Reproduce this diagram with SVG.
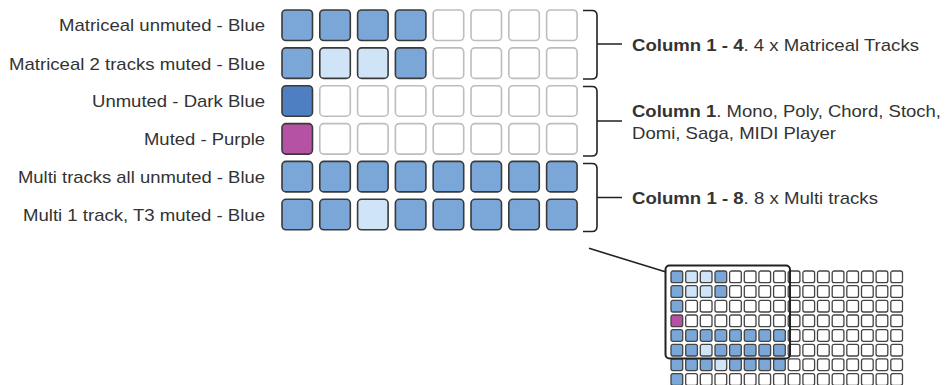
<svg xmlns="http://www.w3.org/2000/svg" width="945" height="385" viewBox="0 0 945 385">
<defs>
<style>
.lbl{font-family:"Liberation Sans",Arial,sans-serif;font-size:17px;fill:#333;text-anchor:end}
.note{font-family:"Liberation Sans",Arial,sans-serif;font-size:17px;fill:#333}
.b{font-weight:bold}
.c{stroke:#3a3a3a;stroke-width:1.6}
.e{fill:#fff;stroke:#bdbdbd;stroke-width:1.6}
.B{fill:#7ba7d8}
.L{fill:#cfe4f7}
.D{fill:#4f7fc3}
.P{fill:#b552a3}
.mini rect{stroke:#444;stroke-width:1.3;fill:#fff}
.mini rect.B{fill:#7ba7d8}
.mini rect.L{fill:#cfe4f7}
.mini rect.P{fill:#b552a3}
.ln{fill:none;stroke:#222;stroke-width:1.6}
</style>
</defs>
<rect width="945" height="385" fill="#fff"/>
<g id="labels">
<text class="lbl" x="265" y="31" textLength="206" lengthAdjust="spacingAndGlyphs">Matriceal unmuted - Blue</text>
<text class="lbl" x="265" y="69.5" textLength="256" lengthAdjust="spacingAndGlyphs">Matriceal 2 tracks muted - Blue</text>
<text class="lbl" x="265" y="107" textLength="173" lengthAdjust="spacingAndGlyphs">Unmuted - Dark Blue</text>
<text class="lbl" x="265" y="145" textLength="121" lengthAdjust="spacingAndGlyphs">Muted - Purple</text>
<text class="lbl" x="265" y="183" textLength="247" lengthAdjust="spacingAndGlyphs">Multi tracks all unmuted - Blue</text>
<text class="lbl" x="265" y="220.5" textLength="242" lengthAdjust="spacingAndGlyphs">Multi 1 track, T3 muted - Blue</text>
</g>
<g id="grid">
<g id="row1">
<rect class="c B" x="282" y="10" width="30.5" height="30.5" rx="4"/>
<rect class="c B" x="319.8" y="10" width="30.5" height="30.5" rx="4"/>
<rect class="c B" x="357.6" y="10" width="30.5" height="30.5" rx="4"/>
<rect class="c B" x="395.4" y="10" width="30.5" height="30.5" rx="4"/>
<rect class="e" x="433.2" y="10" width="30.5" height="30.5" rx="4"/>
<rect class="e" x="471" y="10" width="30.5" height="30.5" rx="4"/>
<rect class="e" x="508.8" y="10" width="30.5" height="30.5" rx="4"/>
<rect class="e" x="546.6" y="10" width="30.5" height="30.5" rx="4"/>
</g>
<g id="row2">
<rect class="c B" x="282" y="47.9" width="30.5" height="30.5" rx="4"/>
<rect class="c L" x="319.8" y="47.9" width="30.5" height="30.5" rx="4"/>
<rect class="c L" x="357.6" y="47.9" width="30.5" height="30.5" rx="4"/>
<rect class="c B" x="395.4" y="47.9" width="30.5" height="30.5" rx="4"/>
<rect class="e" x="433.2" y="47.9" width="30.5" height="30.5" rx="4"/>
<rect class="e" x="471" y="47.9" width="30.5" height="30.5" rx="4"/>
<rect class="e" x="508.8" y="47.9" width="30.5" height="30.5" rx="4"/>
<rect class="e" x="546.6" y="47.9" width="30.5" height="30.5" rx="4"/>
</g>
<g id="row3">
<rect class="c D" x="282" y="85.7" width="30.5" height="30.5" rx="4"/>
<rect class="e" x="319.8" y="85.7" width="30.5" height="30.5" rx="4"/>
<rect class="e" x="357.6" y="85.7" width="30.5" height="30.5" rx="4"/>
<rect class="e" x="395.4" y="85.7" width="30.5" height="30.5" rx="4"/>
<rect class="e" x="433.2" y="85.7" width="30.5" height="30.5" rx="4"/>
<rect class="e" x="471" y="85.7" width="30.5" height="30.5" rx="4"/>
<rect class="e" x="508.8" y="85.7" width="30.5" height="30.5" rx="4"/>
<rect class="e" x="546.6" y="85.7" width="30.5" height="30.5" rx="4"/>
</g>
<g id="row4">
<rect class="c P" x="282" y="123.6" width="30.5" height="30.5" rx="4"/>
<rect class="e" x="319.8" y="123.6" width="30.5" height="30.5" rx="4"/>
<rect class="e" x="357.6" y="123.6" width="30.5" height="30.5" rx="4"/>
<rect class="e" x="395.4" y="123.6" width="30.5" height="30.5" rx="4"/>
<rect class="e" x="433.2" y="123.6" width="30.5" height="30.5" rx="4"/>
<rect class="e" x="471" y="123.6" width="30.5" height="30.5" rx="4"/>
<rect class="e" x="508.8" y="123.6" width="30.5" height="30.5" rx="4"/>
<rect class="e" x="546.6" y="123.6" width="30.5" height="30.5" rx="4"/>
</g>
<g id="row5">
<rect class="c B" x="282" y="161.4" width="30.5" height="30.5" rx="4"/>
<rect class="c B" x="319.8" y="161.4" width="30.5" height="30.5" rx="4"/>
<rect class="c B" x="357.6" y="161.4" width="30.5" height="30.5" rx="4"/>
<rect class="c B" x="395.4" y="161.4" width="30.5" height="30.5" rx="4"/>
<rect class="c B" x="433.2" y="161.4" width="30.5" height="30.5" rx="4"/>
<rect class="c B" x="471" y="161.4" width="30.5" height="30.5" rx="4"/>
<rect class="c B" x="508.8" y="161.4" width="30.5" height="30.5" rx="4"/>
<rect class="c B" x="546.6" y="161.4" width="30.5" height="30.5" rx="4"/>
</g>
<g id="row6">
<rect class="c B" x="282" y="199.3" width="30.5" height="30.5" rx="4"/>
<rect class="c B" x="319.8" y="199.3" width="30.5" height="30.5" rx="4"/>
<rect class="c L" x="357.6" y="199.3" width="30.5" height="30.5" rx="4"/>
<rect class="c B" x="395.4" y="199.3" width="30.5" height="30.5" rx="4"/>
<rect class="c B" x="433.2" y="199.3" width="30.5" height="30.5" rx="4"/>
<rect class="c B" x="471" y="199.3" width="30.5" height="30.5" rx="4"/>
<rect class="c B" x="508.8" y="199.3" width="30.5" height="30.5" rx="4"/>
<rect class="c B" x="546.6" y="199.3" width="30.5" height="30.5" rx="4"/>
</g>
</g>
<g id="connectors">
<path class="ln" d="M583,10.5 H592 Q597,10.5 597,15.5 V74 Q597,79 592,79 H583 M597,44 H622"/>
<path class="ln" d="M583,86.5 H592 Q597,86.5 597,91.5 V151 Q597,156 592,156 H583 M597,121 H622"/>
<path class="ln" d="M583,163.5 H592 Q597,163.5 597,168.5 V226.5 Q597,231.5 592,231.5 H583 M597,197.5 H622"/>
<path class="ln" d="M589,248.3 L666,272"/>
</g>
<g id="notes">
<text class="note" x="632" y="50.5" textLength="287" lengthAdjust="spacingAndGlyphs"><tspan class="b">Column 1 - 4</tspan>. 4 x Matriceal Tracks</text>
<text class="note" x="632" y="116.5" textLength="309" lengthAdjust="spacingAndGlyphs"><tspan class="b">Column 1</tspan>. Mono, Poly, Chord, Stoch,</text>
<text class="note" x="632" y="138.5" textLength="204" lengthAdjust="spacingAndGlyphs">Domi, Saga, MIDI Player</text>
<text class="note" x="632" y="204" textLength="246" lengthAdjust="spacingAndGlyphs"><tspan class="b">Column 1 - 8</tspan>. 8 x Multi tracks</text>
</g>
<g id="mini-grid" class="mini">
<g transform="translate(0,271)">
<rect class="B" x="671" y="0" width="11.7" height="11.7" rx="2"/><rect class="L" x="685.7" y="0" width="11.7" height="11.7" rx="2"/><rect class="L" x="700.3" y="0" width="11.7" height="11.7" rx="2"/><rect class="B" x="715" y="0" width="11.7" height="11.7" rx="2"/><rect x="729.6" y="0" width="11.7" height="11.7" rx="2"/><rect x="744.3" y="0" width="11.7" height="11.7" rx="2"/><rect x="758.9" y="0" width="11.7" height="11.7" rx="2"/><rect x="773.6" y="0" width="11.7" height="11.7" rx="2"/><rect x="788.2" y="0" width="11.7" height="11.7" rx="2"/><rect x="802.9" y="0" width="11.7" height="11.7" rx="2"/><rect x="817.5" y="0" width="11.7" height="11.7" rx="2"/><rect x="832.2" y="0" width="11.7" height="11.7" rx="2"/><rect x="846.8" y="0" width="11.7" height="11.7" rx="2"/><rect x="861.5" y="0" width="11.7" height="11.7" rx="2"/><rect x="876.1" y="0" width="11.7" height="11.7" rx="2"/><rect x="890.8" y="0" width="11.7" height="11.7" rx="2"/>
</g>
<g transform="translate(0,285.7)">
<rect class="B" x="671" y="0" width="11.7" height="11.7" rx="2"/><rect class="L" x="685.7" y="0" width="11.7" height="11.7" rx="2"/><rect class="L" x="700.3" y="0" width="11.7" height="11.7" rx="2"/><rect class="B" x="715" y="0" width="11.7" height="11.7" rx="2"/><rect x="729.6" y="0" width="11.7" height="11.7" rx="2"/><rect x="744.3" y="0" width="11.7" height="11.7" rx="2"/><rect x="758.9" y="0" width="11.7" height="11.7" rx="2"/><rect x="773.6" y="0" width="11.7" height="11.7" rx="2"/><rect x="788.2" y="0" width="11.7" height="11.7" rx="2"/><rect x="802.9" y="0" width="11.7" height="11.7" rx="2"/><rect x="817.5" y="0" width="11.7" height="11.7" rx="2"/><rect x="832.2" y="0" width="11.7" height="11.7" rx="2"/><rect x="846.8" y="0" width="11.7" height="11.7" rx="2"/><rect x="861.5" y="0" width="11.7" height="11.7" rx="2"/><rect x="876.1" y="0" width="11.7" height="11.7" rx="2"/><rect x="890.8" y="0" width="11.7" height="11.7" rx="2"/>
</g>
<g transform="translate(0,300.3)">
<rect class="B" x="671" y="0" width="11.7" height="11.7" rx="2"/><rect x="685.7" y="0" width="11.7" height="11.7" rx="2"/><rect x="700.3" y="0" width="11.7" height="11.7" rx="2"/><rect x="715" y="0" width="11.7" height="11.7" rx="2"/><rect x="729.6" y="0" width="11.7" height="11.7" rx="2"/><rect x="744.3" y="0" width="11.7" height="11.7" rx="2"/><rect x="758.9" y="0" width="11.7" height="11.7" rx="2"/><rect x="773.6" y="0" width="11.7" height="11.7" rx="2"/><rect x="788.2" y="0" width="11.7" height="11.7" rx="2"/><rect x="802.9" y="0" width="11.7" height="11.7" rx="2"/><rect x="817.5" y="0" width="11.7" height="11.7" rx="2"/><rect x="832.2" y="0" width="11.7" height="11.7" rx="2"/><rect x="846.8" y="0" width="11.7" height="11.7" rx="2"/><rect x="861.5" y="0" width="11.7" height="11.7" rx="2"/><rect x="876.1" y="0" width="11.7" height="11.7" rx="2"/><rect x="890.8" y="0" width="11.7" height="11.7" rx="2"/>
</g>
<g transform="translate(0,315)">
<rect class="P" x="671" y="0" width="11.7" height="11.7" rx="2"/><rect x="685.7" y="0" width="11.7" height="11.7" rx="2"/><rect x="700.3" y="0" width="11.7" height="11.7" rx="2"/><rect x="715" y="0" width="11.7" height="11.7" rx="2"/><rect x="729.6" y="0" width="11.7" height="11.7" rx="2"/><rect x="744.3" y="0" width="11.7" height="11.7" rx="2"/><rect x="758.9" y="0" width="11.7" height="11.7" rx="2"/><rect x="773.6" y="0" width="11.7" height="11.7" rx="2"/><rect x="788.2" y="0" width="11.7" height="11.7" rx="2"/><rect x="802.9" y="0" width="11.7" height="11.7" rx="2"/><rect x="817.5" y="0" width="11.7" height="11.7" rx="2"/><rect x="832.2" y="0" width="11.7" height="11.7" rx="2"/><rect x="846.8" y="0" width="11.7" height="11.7" rx="2"/><rect x="861.5" y="0" width="11.7" height="11.7" rx="2"/><rect x="876.1" y="0" width="11.7" height="11.7" rx="2"/><rect x="890.8" y="0" width="11.7" height="11.7" rx="2"/>
</g>
<g transform="translate(0,329.6)">
<rect class="B" x="671" y="0" width="11.7" height="11.7" rx="2"/><rect class="B" x="685.7" y="0" width="11.7" height="11.7" rx="2"/><rect class="B" x="700.3" y="0" width="11.7" height="11.7" rx="2"/><rect class="B" x="715" y="0" width="11.7" height="11.7" rx="2"/><rect class="B" x="729.6" y="0" width="11.7" height="11.7" rx="2"/><rect class="B" x="744.3" y="0" width="11.7" height="11.7" rx="2"/><rect class="B" x="758.9" y="0" width="11.7" height="11.7" rx="2"/><rect class="B" x="773.6" y="0" width="11.7" height="11.7" rx="2"/><rect x="788.2" y="0" width="11.7" height="11.7" rx="2"/><rect x="802.9" y="0" width="11.7" height="11.7" rx="2"/><rect x="817.5" y="0" width="11.7" height="11.7" rx="2"/><rect x="832.2" y="0" width="11.7" height="11.7" rx="2"/><rect x="846.8" y="0" width="11.7" height="11.7" rx="2"/><rect x="861.5" y="0" width="11.7" height="11.7" rx="2"/><rect x="876.1" y="0" width="11.7" height="11.7" rx="2"/><rect x="890.8" y="0" width="11.7" height="11.7" rx="2"/>
</g>
<g transform="translate(0,344.3)">
<rect class="B" x="671" y="0" width="11.7" height="11.7" rx="2"/><rect class="B" x="685.7" y="0" width="11.7" height="11.7" rx="2"/><rect class="L" x="700.3" y="0" width="11.7" height="11.7" rx="2"/><rect class="B" x="715" y="0" width="11.7" height="11.7" rx="2"/><rect class="B" x="729.6" y="0" width="11.7" height="11.7" rx="2"/><rect class="B" x="744.3" y="0" width="11.7" height="11.7" rx="2"/><rect class="B" x="758.9" y="0" width="11.7" height="11.7" rx="2"/><rect class="B" x="773.6" y="0" width="11.7" height="11.7" rx="2"/><rect x="788.2" y="0" width="11.7" height="11.7" rx="2"/><rect x="802.9" y="0" width="11.7" height="11.7" rx="2"/><rect x="817.5" y="0" width="11.7" height="11.7" rx="2"/><rect x="832.2" y="0" width="11.7" height="11.7" rx="2"/><rect x="846.8" y="0" width="11.7" height="11.7" rx="2"/><rect x="861.5" y="0" width="11.7" height="11.7" rx="2"/><rect x="876.1" y="0" width="11.7" height="11.7" rx="2"/><rect x="890.8" y="0" width="11.7" height="11.7" rx="2"/>
</g>
<g transform="translate(0,358.9)">
<rect class="B" x="671" y="0" width="11.7" height="11.7" rx="2"/><rect class="B" x="685.7" y="0" width="11.7" height="11.7" rx="2"/><rect class="B" x="700.3" y="0" width="11.7" height="11.7" rx="2"/><rect class="L" x="715" y="0" width="11.7" height="11.7" rx="2"/><rect class="B" x="729.6" y="0" width="11.7" height="11.7" rx="2"/><rect class="B" x="744.3" y="0" width="11.7" height="11.7" rx="2"/><rect class="B" x="758.9" y="0" width="11.7" height="11.7" rx="2"/><rect class="B" x="773.6" y="0" width="11.7" height="11.7" rx="2"/><rect x="788.2" y="0" width="11.7" height="11.7" rx="2"/><rect x="802.9" y="0" width="11.7" height="11.7" rx="2"/><rect x="817.5" y="0" width="11.7" height="11.7" rx="2"/><rect x="832.2" y="0" width="11.7" height="11.7" rx="2"/><rect x="846.8" y="0" width="11.7" height="11.7" rx="2"/><rect x="861.5" y="0" width="11.7" height="11.7" rx="2"/><rect x="876.1" y="0" width="11.7" height="11.7" rx="2"/><rect x="890.8" y="0" width="11.7" height="11.7" rx="2"/>
</g>
<g transform="translate(0,373.6)">
<rect class="B" x="671" y="0" width="11.7" height="11.7" rx="2"/><rect x="685.7" y="0" width="11.7" height="11.7" rx="2"/><rect x="700.3" y="0" width="11.7" height="11.7" rx="2"/><rect x="715" y="0" width="11.7" height="11.7" rx="2"/><rect x="729.6" y="0" width="11.7" height="11.7" rx="2"/><rect x="744.3" y="0" width="11.7" height="11.7" rx="2"/><rect x="758.9" y="0" width="11.7" height="11.7" rx="2"/><rect x="773.6" y="0" width="11.7" height="11.7" rx="2"/><rect x="788.2" y="0" width="11.7" height="11.7" rx="2"/><rect x="802.9" y="0" width="11.7" height="11.7" rx="2"/><rect x="817.5" y="0" width="11.7" height="11.7" rx="2"/><rect x="832.2" y="0" width="11.7" height="11.7" rx="2"/><rect x="846.8" y="0" width="11.7" height="11.7" rx="2"/><rect x="861.5" y="0" width="11.7" height="11.7" rx="2"/><rect x="876.1" y="0" width="11.7" height="11.7" rx="2"/><rect x="890.8" y="0" width="11.7" height="11.7" rx="2"/>
</g>
<rect id="highlight" x="665.5" y="265.5" width="124.5" height="93" rx="4" style="fill:none;stroke:#222;stroke-width:2"/>
</g>
</svg>
